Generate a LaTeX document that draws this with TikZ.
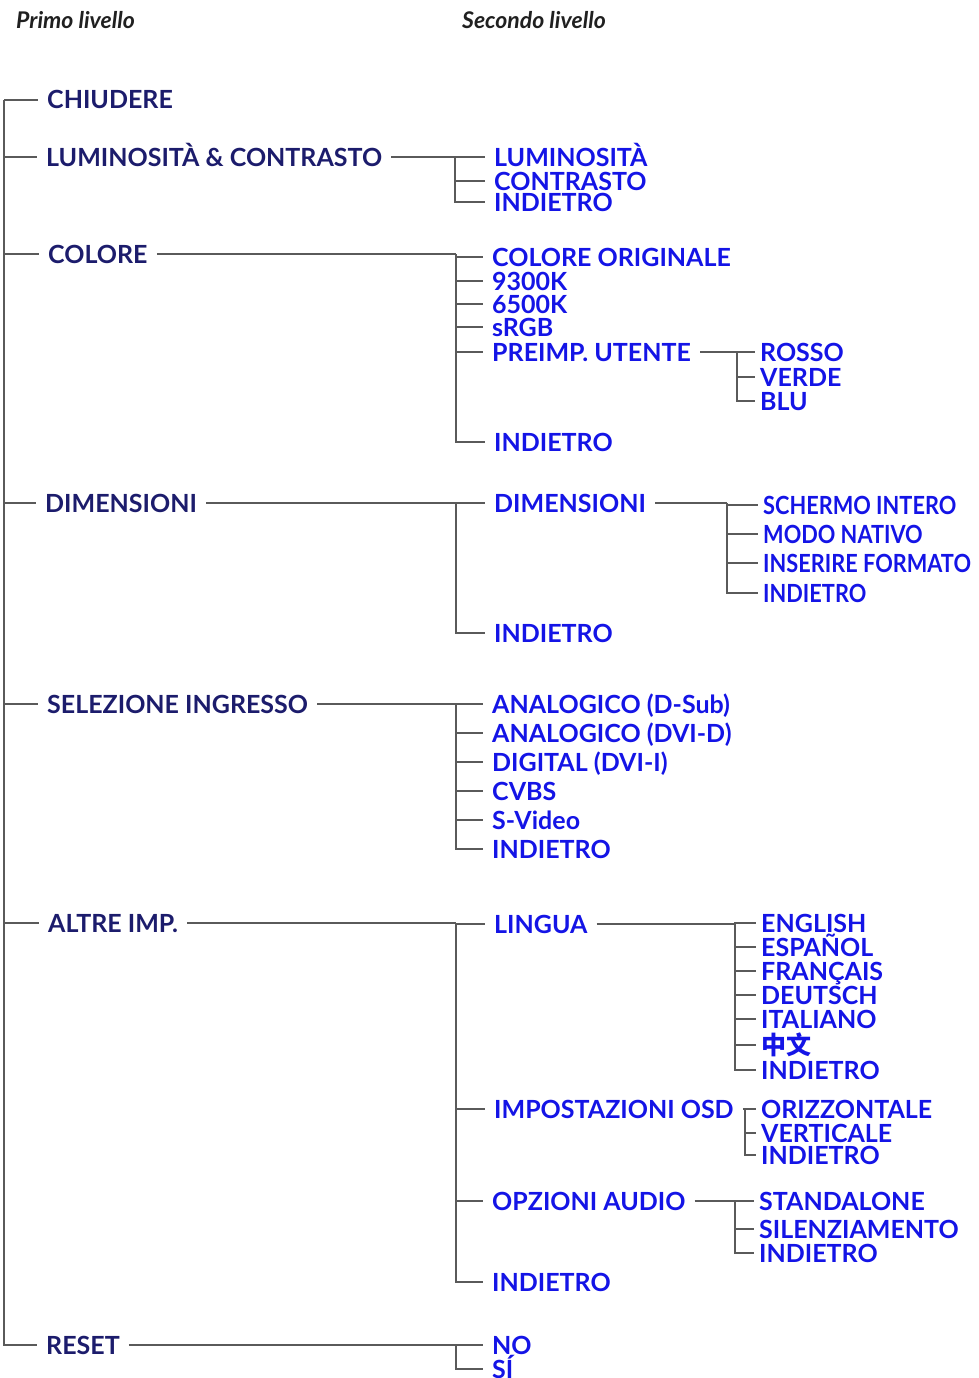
\documentclass[tikz,border=0pt]{standalone}
\usepackage{fontspec}
\setmainfont{Lato}
\newfontfamily\cjk{Noto Sans CJK SC}
\usetikzlibrary{positioning}
\definecolor{cNavy}{HTML}{1C1C6C}
\definecolor{cBlue}{HTML}{1414E6}
\definecolor{cHead}{HTML}{202020}
\definecolor{cLine}{HTML}{5A5A5A}
\newcommand{\lvfont}{\fontsize{25}{30}\selectfont\bfseries}
\newcommand{\hdfont}{\fontsize{23}{27}\selectfont\itshape\bfseries}
\newcommand{\nrw}[1]{\scalebox{0.87}[1]{#1}}
\tikzset{
  lvA/.style={anchor=west, inner xsep=9pt, inner ysep=0pt, text height=18pt,
              text depth=0pt, font=\lvfont, text=cNavy},
  lvB/.style={lvA, text=cBlue},
  lvC/.style={lvB, inner xsep=5pt},
  head/.style={anchor=west, inner sep=0pt, font=\hdfont, text=cHead},
  ln/.style={draw=cLine, line width=1.3pt},
}

\begin{document}
\begin{tikzpicture}[x=1pt, y=-1pt]
  \useasboundingbox (0,0) rectangle (979,1378);
  % headings
  \node[head] (hPrimo) at (16,20) {Primo livello};
  \node[head] (hSecondo) at (462,20) {Secondo livello};

  % first level
  \coordinate (jRoot) at (4,100);
  \node[lvA] (chiud)  at (38,100)  {CHIUDERE};
  \node[lvA] (lumc)   at (37,157)  {LUMINOSITÀ \& CONTRASTO};
  \node[lvA] (colore) at (39,254)  {COLORE};
  \node[lvA] (dimen)  at (36,503)  {DIMENSIONI};
  \node[lvA] (selin)  at (38,704)  {SELEZIONE INGRESSO};
  \node[lvA] (altre)  at (39,923)  {ALTRE IMP.};
  \node[lvA] (reset)  at (37,1345) {RESET};
  \foreach \c in {chiud,lumc,colore,dimen,selin,altre,reset}
    \draw[ln] (jRoot) |- (\c.west);

  % luminosita & contrasto
  \coordinate (jLum) at (455,157);
  \node[lvB] (lcLum) at (485,157) {LUMINOSITÀ};
  \node[lvB] (lcCon) at (485,181) {CONTRASTO};
  \node[lvB] (lcInd) at (485,202) {INDIETRO};
  \draw[ln] (lumc.east) -- (jLum);
  \foreach \c in {lcLum,lcCon,lcInd}
    \draw[ln] (jLum) |- (\c.west);

  % colore
  \coordinate (jCol) at (456,254);
  \node[lvB] (coOrig) at (483,257) {COLORE ORIGINALE};
  \node[lvB] (co93)   at (483,281) {9300K};
  \node[lvB] (co65)   at (483,304) {6500K};
  \node[lvB] (coSrgb) at (483,327) {sRGB};
  \node[lvB] (coPre)  at (483,352) {PREIMP. UTENTE};
  \node[lvB] (coInd)  at (485,442) {INDIETRO};
  \draw[ln] (colore.east) -- (jCol);
  \foreach \c in {coOrig,co93,co65,coSrgb,coPre,coInd}
    \draw[ln] (jCol) |- (\c.west);

  \coordinate (jPre) at (737,352);
  \node[lvC] (prRos) at (755,352) {ROSSO};
  \node[lvC] (prVer) at (755,377) {VERDE};
  \node[lvC] (prBlu) at (755,401) {BLU};
  \draw[ln] (coPre.east) -- (jPre);
  \foreach \c in {prRos,prVer,prBlu}
    \draw[ln] (jPre) |- (\c.west);

  % dimensioni
  \coordinate (jDim) at (456,503);
  \node[lvB] (diDim) at (485,503) {DIMENSIONI};
  \node[lvB] (diInd) at (485,633) {INDIETRO};
  \draw[ln] (dimen.east) -- (jDim);
  \foreach \c in {diDim,diInd}
    \draw[ln] (jDim) |- (\c.west);

  \coordinate (jDm) at (727,503);
  \node[lvC] (dmSch) at (758,505) {\nrw{SCHERMO INTERO}};
  \node[lvC] (dmNat) at (758,534) {\nrw{MODO NATIVO}};
  \node[lvC] (dmIns) at (758,563) {\nrw{INSERIRE FORMATO}};
  \node[lvC] (dmInd) at (758,593) {\nrw{INDIETRO}};
  \draw[ln] (diDim.east) -- (jDm);
  \foreach \c in {dmSch,dmNat,dmIns,dmInd}
    \draw[ln] (jDm) |- (\c.west);

  % selezione ingresso
  \coordinate (jSel) at (456,704);
  \node[lvB] (siDsub) at (483,704) {ANALOGICO (D-Sub)};
  \node[lvB] (siDvi)  at (483,733) {ANALOGICO (DVI-D)};
  \node[lvB] (siDig)  at (483,762) {DIGITAL (DVI-I)};
  \node[lvB] (siCvbs) at (483,791) {CVBS};
  \node[lvB] (siSvid) at (483,820) {S-Video};
  \node[lvB] (siInd)  at (483,849) {INDIETRO};
  \draw[ln] (selin.east) -- (jSel);
  \foreach \c in {siDsub,siDvi,siDig,siCvbs,siSvid,siInd}
    \draw[ln] (jSel) |- (\c.west);

  % altre imp.
  \coordinate (jAlt) at (456,923);
  \node[lvB] (alLin) at (485,924)  {LINGUA};
  \node[lvB] (alOsd) at (485,1109) {IMPOSTAZIONI OSD};
  \node[lvB] (alAud) at (483,1201) {OPZIONI AUDIO};
  \node[lvB] (alInd) at (483,1282) {INDIETRO};
  \draw[ln] (altre.east) -- (jAlt);
  \foreach \c in {alLin,alOsd,alAud,alInd}
    \draw[ln] (jAlt) |- (\c.west);

  \coordinate (jLin) at (735,924);
  \node[lvC] (liEng) at (756,923)  {ENGLISH};
  \node[lvC] (liEsp) at (756,947)  {ESPAÑOL};
  \node[lvC] (liFra) at (756,971)  {FRANÇAIS};
  \node[lvC] (liDeu) at (756,995)  {DEUTSCH};
  \node[lvC] (liIta) at (756,1019) {ITALIANO};
  \node[lvC] (liZh)  at (756,1045) {\cjk 中文};
  \node[lvC] (liInd) at (756,1070) {INDIETRO};
  \draw[ln] (alLin.east) -- (jLin);
  \foreach \c in {liEng,liEsp,liFra,liDeu,liIta,liZh,liInd}
    \draw[ln] (jLin) |- (\c.west);

  \coordinate (jOsd) at (745,1109);
  \node[lvC] (osOri) at (756,1109) {ORIZZONTALE};
  \node[lvC] (osVer) at (756,1133) {VERTICALE};
  \node[lvC] (osInd) at (756,1155) {INDIETRO};
  \draw[ln] (alOsd.east) -- (jOsd);
  \foreach \c in {osOri,osVer,osInd}
    \draw[ln] (jOsd) |- (\c.west);

  \coordinate (jAud) at (735,1201);
  \node[lvC] (auSta) at (754,1201) {STANDALONE};
  \node[lvC] (auSil) at (754,1229) {SILENZIAMENTO};
  \node[lvC] (auInd) at (754,1253) {INDIETRO};
  \draw[ln] (alAud.east) -- (jAud);
  \foreach \c in {auSta,auSil,auInd}
    \draw[ln] (jAud) |- (\c.west);

  % reset
  \coordinate (jRes) at (456,1345);
  \node[lvB] (reNo) at (483,1345) {NO};
  \node[lvB] (reSi) at (483,1369) {SÍ};
  \draw[ln] (reset.east) -- (jRes);
  \foreach \c in {reNo,reSi}
    \draw[ln] (jRes) |- (\c.west);
\end{tikzpicture}
\end{document}
